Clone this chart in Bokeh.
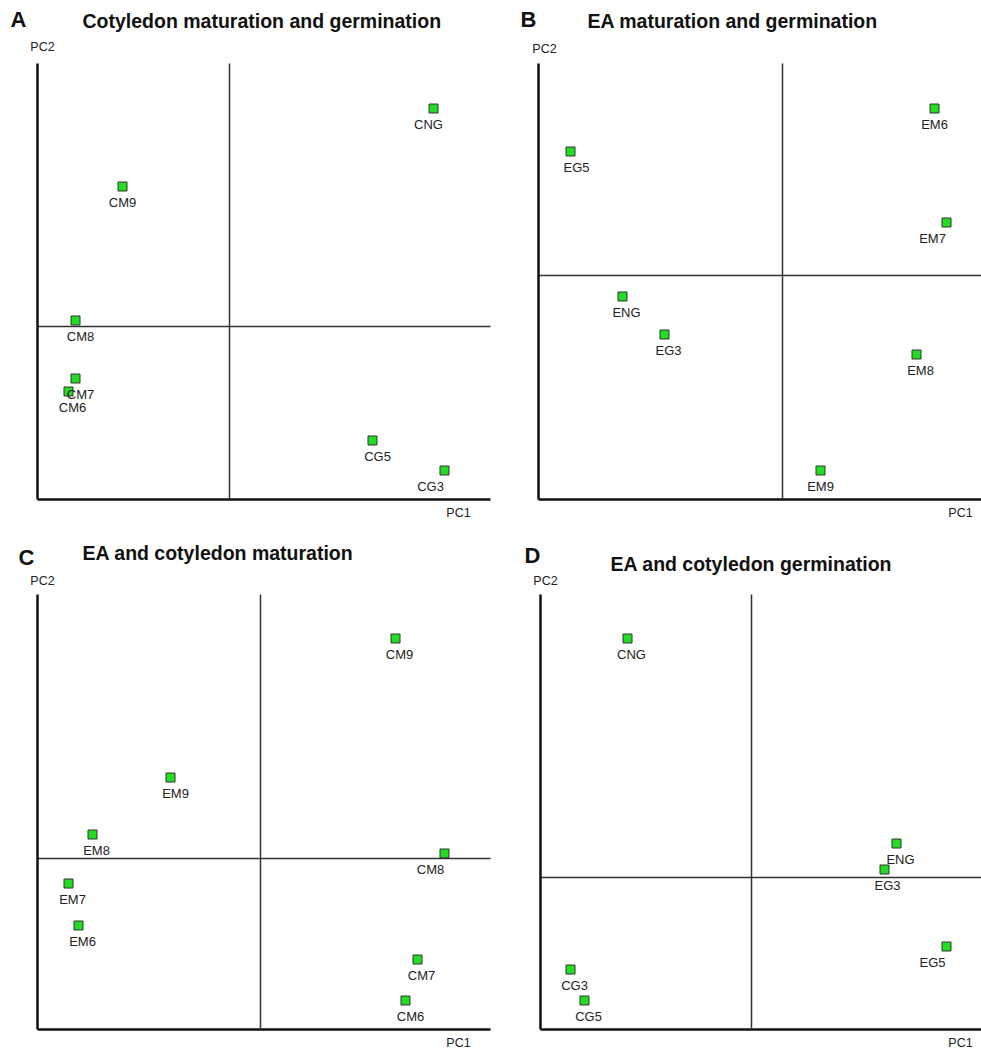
from bokeh.plotting import figure
from bokeh.layouts import gridplot
from bokeh.models import ColumnDataSource, Label, Range1d, LinearAxis
from bokeh.core.properties import value
from bokeh.embed import file_html
from bokeh.resources import INLINE

# ---- data (PC1 / PC2 scores) ----
a_names = ["CNG", "CM9", "CM8", "CM7", "CM6", "CG5", "CG3"]
a_pc1 = [2.04, -1.07, -1.54, -1.54, -1.61, 1.43, 2.15]
a_pc2 = [2.18, 1.40, 0.06, -0.52, -0.65, -1.14, -1.44]
a_dx = [-5, 0, 5, 5, 4, 5, -14]

b_names = ["EM6", "EG5", "EM7", "ENG", "EG3", "EM8", "EM9"]
b_pc1 = [1.52, -2.12, 1.64, -1.60, -1.18, 1.34, 0.38]
b_pc2 = [1.67, 1.24, 0.53, -0.21, -0.59, -0.79, -1.95]
b_dx = [0, 6, -14, 4, 4, 4, 0]

c_names = ["CM9", "EM9", "EM8", "CM8", "EM7", "EM6", "CM7", "CM6"]
c_pc1 = [1.35, -0.90, -1.68, 1.84, -1.92, -1.82, 1.57, 1.45]
c_pc2 = [2.20, 0.81, 0.24, 0.05, -0.25, -0.67, -1.01, -1.42]
c_dx = [4, 5, 4, -14, 4, 4, 4, 5]

d_names = ["CNG", "ENG", "EG3", "EG5", "CG3", "CG5"]
d_pc1 = [-1.24, 1.45, 1.33, 1.95, -1.81, -1.67]
d_pc2 = [2.39, 0.34, 0.08, -0.69, -0.92, -1.23]
d_dx = [4, 4, 3, -14, 4, 4]

# axis extents (PC units) of each panel
a_xlim, a_ylim = (-1.92, 2.61), (-1.73, 2.63)
b_xlim, b_ylim = (-2.44, 1.99), (-2.24, 2.12)
c_xlim, c_ylim = (-2.23, 2.30), (-1.71, 2.64)
d_xlim, d_ylim = (-2.11, 2.30), (-1.52, 2.83)

titles = ["Cotyledon maturation and germination", "EA maturation and germination",
          "EA and cotyledon maturation", "EA and cotyledon germination"]
letters = ["A", "B", "C", "D"]

INK = "#111111"


def bare_axis(ax, loc, bounds, width, color):
    ax.fixed_location = loc
    ax.bounds = bounds
    ax.ticker = []
    ax.major_tick_line_color = None
    ax.minor_tick_line_color = None
    ax.major_label_text_font_size = "0px"
    ax.axis_line_width = width
    ax.axis_line_color = color


def panel(letter, title, names, pc1, pc2, dx, xlim, ylim, view_x, view_y, width, height,
          letter_off, title_off, pc2_off, pc1_off):
    p = figure(width=width, height=height, x_range=Range1d(*view_x), y_range=Range1d(*view_y),
               output_backend="svg", toolbar_location=None,
               min_border_left=0, min_border_right=0, min_border_top=0, min_border_bottom=0)
    p.outline_line_color = None
    p.grid.visible = False
    p.background_fill_color = "white"
    bare_axis(p.xaxis[0], ylim[0], xlim, 2.5, INK)
    bare_axis(p.yaxis[0], xlim[0], ylim, 2.5, INK)
    hx = LinearAxis()
    bare_axis(hx, 0, xlim, 1.5, "#333333")
    p.add_layout(hx, "below")
    vy = LinearAxis()
    bare_axis(vy, 0, ylim, 1.5, "#333333")
    p.add_layout(vy, "left")

    src = ColumnDataSource(dict(x=pc1, y=pc2, name=names, dx=dx))
    p.scatter("x", "y", source=src, marker="square", size=9,
              fill_color="#22dd22", line_color="#333333", line_width=1)
    p.text("x", "y", text="name", source=src, x_offset="dx", y_offset=16,
           text_align="center", text_baseline="middle",
           text_font=value("Liberation Sans"), text_font_size="13px", text_color="#222222")
    p.add_layout(Label(x=xlim[0], y=ylim[1], x_offset=letter_off[0], y_offset=letter_off[1],
                       text=letter, text_font="Liberation Sans", text_font_style="bold",
                       text_font_size="22px", text_align="left", text_baseline="middle",
                       text_color=INK))
    p.add_layout(Label(x=xlim[0], y=ylim[1], x_offset=title_off[0], y_offset=title_off[1],
                       text=title, text_font="Liberation Sans", text_font_style="bold",
                       text_font_size="19.5px", text_align="left", text_baseline="middle",
                       text_color=INK))
    p.add_layout(Label(x=xlim[0], y=ylim[1], x_offset=pc2_off[0], y_offset=pc2_off[1],
                       text="PC2", text_font="Liberation Sans", text_font_size="12.5px",
                       text_align="center", text_baseline="middle", text_color="#222222"))
    p.add_layout(Label(x=xlim[1], y=ylim[0], x_offset=pc1_off[0], y_offset=pc1_off[1],
                       text="PC1", text_font="Liberation Sans", text_font_size="12.5px",
                       text_align="center", text_baseline="middle", text_color="#222222"))
    return p


pa = panel(letters[0], titles[0], a_names, a_pc1, a_pc2, a_dx, a_xlim, a_ylim,
           (-2.29, 2.81), (-2.08, 3.26), 510, 534,
           (-27, 44), (45, 43), (5, 17), (-32, -13))
pb = panel(letters[1], titles[1], b_names, b_pc1, b_pc2, b_dx, b_xlim, b_ylim,
           (-2.72, 1.99), (-2.59, 2.75), 471, 534,
           (-18, 44), (49, 43), (6, 15), (-21, -13))
pc = panel(letters[2], titles[2], c_names, c_pc1, c_pc2, c_dx, c_xlim, c_ylim,
           (-2.60, 2.50), (-1.92, 3.24), 510, 516,
           (-19, 37), (45, 42), (5, 14), (-32, -13))
pd = panel(letters[3], titles[3], d_names, d_pc1, d_pc2, d_dx, d_xlim, d_ylim,
           (-2.41, 2.30), (-1.73, 3.43), 471, 516,
           (-16, 39), (70, 31), (5, 14), (-21, -13))

grid = gridplot([[pa, pb], [pc, pd]], toolbar_location=None)

open("out.html", "w").write(file_html(grid, INLINE))
